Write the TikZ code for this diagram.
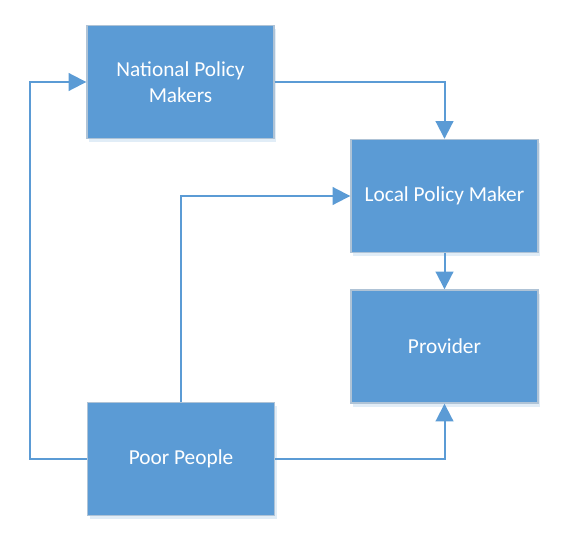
\documentclass[tikz,border=0pt]{standalone}
\usepackage{fontspec}
\setmainfont{Carlito}
\usepackage{tikz}
\usetikzlibrary{arrows.meta,positioning,shadows}
\definecolor{mBlue}{HTML}{5B9BD5}
\definecolor{mEdge}{HTML}{AFC3D6}
\tikzset{
  nd/.style   = {draw=mEdge, fill=mBlue, line width=1.2pt, align=center,
                 text=white, font=\fontsize{18.2}{22}\selectfont,
                 minimum width=5.61cm, minimum height=3.39cm, inner sep=2pt,
                 drop shadow={opacity=0.18, fill=mBlue, shadow xshift=2pt,
                 shadow yshift=-3pt}},
  ar/.style   = {-{Triangle[length=15pt, width=15pt]}, draw=mBlue,
                 line width=1.7pt},
}
\begin{document}
\begin{tikzpicture}[x=0.03cm, y=-0.03cm]
  \useasboundingbox (0,0) rectangle (573,537);
  \node[nd] (npm)  at (180.5,82)  {National Policy\\ Makers};
  \node[nd] (lpm)  at (444.5,196) {Local Policy Maker};
  \node[nd] (prov) at (444.5,346.5) {Provider};
  \node[nd] (poor) at (181,459)   {Poor People};
  \coordinate (lft) at (30,270);
  \draw[ar] (npm.east) -| (lpm.north);
  \draw[ar] (lpm.south) -- (prov.north);
  \draw[ar] (poor.north) |- (lpm.west);
  \draw[ar] (poor.east) -| (prov.south);
  \draw[ar] (poor.west) -| (lft) |- (npm.west);
\end{tikzpicture}
\end{document}
